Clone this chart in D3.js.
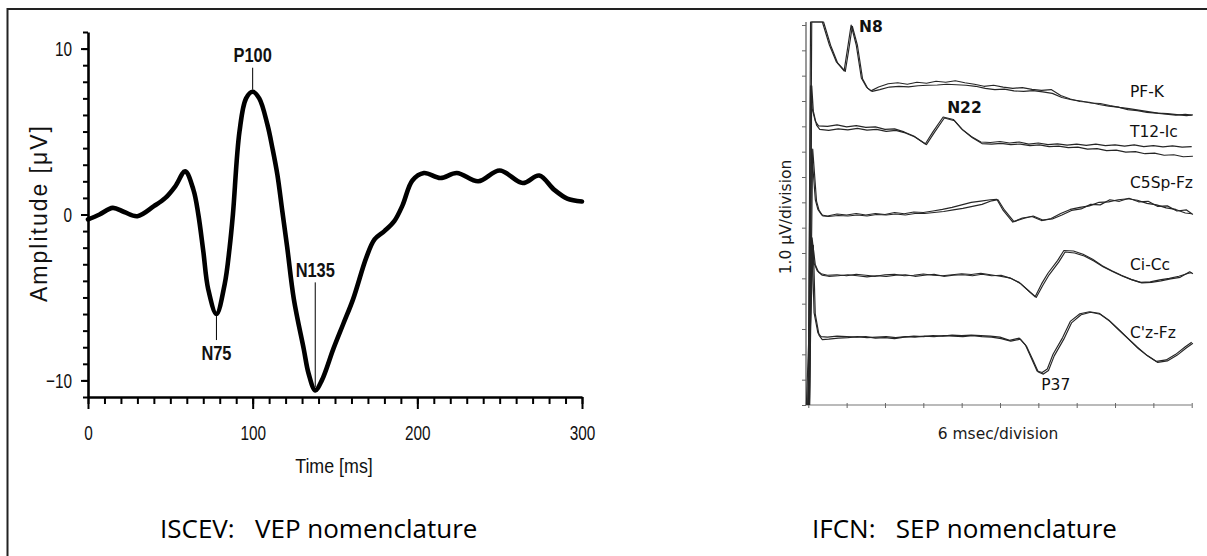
<!DOCTYPE html>
<html>
<head>
<meta charset="utf-8">
<script src="https://cdn.jsdelivr.net/npm/d3@7"></script>
<style>
  html, body { margin: 0; padding: 0; background: #fff; }
  svg { display: block; }
</style>
</head>
<body>
<svg id="chart" width="1207" height="556"></svg>
<script>
// ---------- VEP (ISCEV) waveform: time in ms, amplitude in µV ----------
const vepTime = [0, 7, 15, 22, 30, 40, 47, 53, 59, 64, 67, 70, 73, 78, 83, 86, 88, 92, 96, 100,
                 104, 109, 112, 115, 118, 121, 125, 131, 134, 138, 142, 149, 155, 161, 169, 174,
                 180, 186, 191, 197, 204, 214, 224, 237, 250, 264, 274, 283, 291, 300];
const vepAmp  = [-0.3, 0.0, 0.4, 0.15, -0.1, 0.5, 1.0, 1.7, 2.6, 1.5, 0.0, -2.2, -4.5, -6.0, -4.2, -2.0, 0.0, 5.0, 7.0, 7.4,
                 7.0, 5.4, 4.0, 2.4, 0.2, -2.0, -5.1, -8.1, -9.6, -10.6, -10.0, -8.1, -6.6, -5.1, -2.6, -1.5,
                 -1.0, -0.4, 0.55, 2.05, 2.5, 2.2, 2.5, 2.0, 2.65, 1.9, 2.35, 1.5, 0.96, 0.78];
const vepXTicks = [0, 100, 200, 300];
const vepYTicks = [-10, 0, 10];
const vepPeakNames = ["N75", "P100", "N135"];
const vepPeakTimes = [78, 100, 138];
const vepPeakAmps  = [-6.0, 7.4, -10.6];

// ---------- SEP (IFCN) traces: time in ms, amplitude in µV (display divisions from the bottom) ----------
const sepNames = ["PF-K", "T12-Ic", "C5Sp-Fz", "Ci-Cc", "C'z-Fz"];

const pfkTime = [0, 0.35, 2.2, 3.3, 4.4, 5.6, 6.1, 6.7, 7.5, 8.3, 9.1, 9.8, 11, 12.5, 14, 15.5, 17, 18.5, 20, 21.5,
                 23, 24.5, 26, 27.5, 29, 30.5, 32, 33.5, 35, 36.5, 38, 39.5, 41, 42.5, 44, 45.5, 47, 48.5, 50, 51.5,
                 53, 54.5, 56, 57.5, 59, 60];
const pfkA = [0, 15.12, 15.12, 14.21, 13.54, 13.19, 14.0, 15.0, 14.21, 12.91, 12.55, 12.40, 12.55, 12.68, 12.72, 12.66, 12.74, 12.70, 12.78, 12.74,
              12.80, 12.72, 12.66, 12.58, 12.62, 12.55, 12.50, 12.53, 12.46, 12.42, 12.45, 12.22, 12.08, 11.98, 11.95, 11.86, 11.80, 11.76, 11.66, 11.62,
              11.55, 11.52, 11.48, 11.44, 11.47, 11.44];
const pfkB = [0, 15.12, 15.12, 14.2, 13.5, 13.17, 13.95, 14.95, 14.2, 12.88, 12.5, 12.38, 12.45, 12.55, 12.58, 12.56, 12.6, 12.62, 12.63, 12.66,
              12.64, 12.62, 12.58, 12.5, 12.45, 12.47, 12.40, 12.38, 12.41, 12.36, 12.30, 12.14, 12.05, 12.00, 11.92, 11.90, 11.82, 11.75, 11.70, 11.64,
              11.58, 11.52, 11.50, 11.46, 11.42, 11.45];

const t12Time = [0, 0.35, 0.6, 1.1, 1.6, 3, 4.5, 6, 7.5, 9, 10.5, 12, 13.5, 15, 16.5, 18.3, 19.5, 21.1, 22.7, 24,
                 25.5, 27, 28.5, 30, 31.5, 33, 34.5, 36, 37.5, 39, 40.5, 42, 43.5, 45, 46.5, 48, 49.5, 51, 52.5, 54,
                 55.5, 57, 58.5, 60];
const t12A = [0, 12.6, 11.7, 11.2, 11.02, 11.0, 11.06, 10.98, 11.03, 10.96, 10.98, 10.88, 10.9, 10.78, 10.62, 10.30, 10.78, 11.37, 11.27, 10.9,
              10.6, 10.38, 10.36, 10.4, 10.34, 10.38, 10.3, 10.34, 10.28, 10.31, 10.26, 10.3, 10.25, 10.3, 10.24, 10.27, 10.22, 10.27, 10.2, 10.24,
              10.19, 10.23, 10.18, 10.2];
const t12B = [0, 12.6, 11.6, 11.05, 10.88, 10.84, 10.9, 10.86, 10.92, 10.85, 10.88, 10.8, 10.84, 10.74, 10.58, 10.28, 10.74, 11.33, 11.22, 10.85,
              10.55, 10.32, 10.3, 10.33, 10.28, 10.3, 10.24, 10.27, 10.2, 10.22, 10.16, 10.18, 10.1, 10.12, 10.04, 10.06, 9.98, 10.0, 9.92, 9.94,
              9.86, 9.88, 9.8, 9.82];

const c5Time = [0, 0.5, 1.1, 1.5, 2.1, 3, 4.5, 6, 7.5, 9, 10.5, 12, 13.5, 15, 16.5, 18, 19.5, 21, 22.5, 24,
                25.5, 27, 28.5, 29.5, 30.5, 32, 33.5, 35, 36.5, 38, 39.5, 41, 42.5, 44, 45.5, 47, 48.5, 50, 51.5, 53,
                54.5, 56, 57.5, 59, 60];
const c5A = [0, 10.1, 8.1, 7.72, 7.5, 7.46, 7.54, 7.5, 7.56, 7.5, 7.56, 7.52, 7.6, 7.55, 7.62, 7.6, 7.66, 7.72, 7.8, 7.9,
             8.0, 8.05, 8.1, 8.12, 7.68, 7.22, 7.38, 7.44, 7.28, 7.36, 7.56, 7.72, 7.8, 7.86, 8.0, 8.02, 8.1, 8.14, 8.08, 7.96,
             7.9, 7.78, 7.72, 7.58, 7.55];
const c5B = [0, 10.1, 8.05, 7.68, 7.46, 7.44, 7.48, 7.46, 7.5, 7.46, 7.52, 7.5, 7.54, 7.5, 7.56, 7.56, 7.6, 7.64, 7.7, 7.76,
             7.84, 7.92, 8.06, 8.1, 7.7, 7.24, 7.36, 7.46, 7.3, 7.34, 7.5, 7.68, 7.74, 7.92, 7.9, 8.1, 8.04, 8.16, 8.02, 8.04,
             7.84, 7.86, 7.66, 7.7, 7.52];

const ciTime = [0, 0.4, 0.9, 1.4, 2, 3, 4.5, 6, 7.5, 9, 10.5, 12, 13.5, 15, 16.5, 18, 19.5, 21, 22.5, 24,
                25.5, 27, 28.5, 30, 31.5, 33, 34.5, 35.5, 36.5, 37.5, 39, 40, 41.5, 43, 44.5, 46, 47.5, 49, 50.5, 52,
                53.5, 55, 56.5, 58, 59.5, 60];
const ciA = [0, 6.6, 5.6, 5.3, 5.18, 5.12, 5.14, 5.1, 5.16, 5.12, 5.08, 5.14, 5.16, 5.1, 5.12, 5.17, 5.12, 5.1, 5.14, 5.18,
             5.15, 5.2, 5.14, 5.08, 5.02, 4.84, 4.5, 4.27, 4.78, 5.2, 5.7, 6.1, 6.08, 5.95, 5.75, 5.5, 5.3, 5.12, 4.96, 4.84,
             4.86, 4.94, 5.0, 5.08, 5.2, 5.22];
const ciB = [0, 6.6, 5.55, 5.25, 5.12, 5.08, 5.1, 5.14, 5.1, 5.06, 5.1, 5.08, 5.12, 5.14, 5.08, 5.12, 5.16, 5.08, 5.12, 5.14,
             5.1, 5.16, 5.1, 5.12, 5.0, 4.8, 4.46, 4.25, 4.72, 5.14, 5.64, 6.04, 6.0, 5.88, 5.68, 5.45, 5.26, 5.08, 4.94, 4.82,
             4.84, 4.9, 4.98, 5.04, 5.26, 5.18];

const czTime = [-0.3, 0.6, 0.9, 1.5, 2, 3, 4.5, 6, 7.5, 9, 10.5, 12, 13.5, 15, 16.5, 18, 19.5, 21, 22.5, 24,
                25.5, 27, 28.5, 30, 31.5, 33, 34, 35, 35.8, 36.6, 37.4, 38.3, 39.8, 41, 42.5, 44, 45.5, 47, 48.5, 50,
                51.5, 53, 54.5, 56, 57.5, 59, 60];
const czA = [0, 6.3, 3.65, 2.85, 2.7, 2.68, 2.72, 2.7, 2.68, 2.7, 2.64, 2.66, 2.62, 2.68, 2.72, 2.7, 2.74, 2.72, 2.76, 2.74,
             2.76, 2.74, 2.72, 2.68, 2.55, 2.64, 2.36, 1.8, 1.34, 1.28, 1.42, 2.0, 2.66, 3.3, 3.6, 3.68, 3.62, 3.36, 3.0, 2.64,
             2.28, 1.96, 1.72, 1.78, 2.0, 2.3, 2.48];
const czB = [0, 6.3, 3.6, 2.75, 2.58, 2.6, 2.64, 2.66, 2.7, 2.66, 2.68, 2.7, 2.66, 2.7, 2.68, 2.72, 2.7, 2.74, 2.72, 2.7,
             2.74, 2.7, 2.68, 2.62, 2.52, 2.6, 2.3, 1.76, 1.3, 1.22, 1.36, 1.94, 2.6, 3.24, 3.56, 3.66, 3.58, 3.3, 2.94, 2.58,
             2.22, 1.92, 1.68, 1.74, 1.96, 2.26, 2.44];

// component markers on the SEP traces: name, latency (ms), amplitude (div)
const sepPeakNames = ["N8", "N22", "P37"];
const sepPeakTimes = [6.7, 21.1, 36.6];
const sepPeakAmps  = [15.0, 11.37, 1.28];

const svg = d3.select("#chart");
const ink = "#000";

// shrink a text element's advance width (condensed lettering)
function condense(sel, f) {
  sel.each(function () {
    const w = this.getComputedTextLength();
    d3.select(this).attr("textLength", w * f).attr("lengthAdjust", "spacingAndGlyphs");
  });
}

// ---------- outer frame ----------
svg.append("path")
  .attr("d", "M7.5,556 V9 H1207")
  .attr("fill", "none").attr("stroke", "#222").attr("stroke-width", 2);

// =====================================================================
// Left panel: VEP
// =====================================================================
const vepX = d3.scaleLinear().domain([0, 300]).range([88, 582]);
const vepY = d3.scaleLinear().domain([-11, 11]).range([397, 32]);
const vepFont = "'Liberation Sans', Arial, Helvetica, sans-serif";

const left = svg.append("g");

// x axis: minor ticks every 10 ms, major every 100 ms
left.append("g")
  .attr("transform", `translate(0,${vepY(-11)})`)
  .call(d3.axisBottom(vepX).tickValues(d3.range(0, 301, 10)).tickSize(7).tickSizeOuter(0).tickFormat(""))
  .call(g => g.select(".domain").attr("stroke", ink).attr("stroke-width", 2.6))
  .call(g => g.selectAll(".tick line").attr("stroke", ink).attr("stroke-width", 2));
left.append("g")
  .attr("transform", `translate(0,${vepY(-11)})`)
  .call(d3.axisBottom(vepX).tickValues(vepXTicks).tickSize(12).tickSizeOuter(0).tickPadding(16))
  .call(g => g.select(".domain").remove())
  .call(g => g.selectAll(".tick line").attr("stroke", ink).attr("stroke-width", 2))
  .call(g => g.selectAll(".tick text").attr("fill", "#111").attr("font-family", vepFont).attr("font-size", 21)
    .call(condense, 0.73));

// y axis: minor ticks every 1 µV, major every 10 µV
left.append("g")
  .attr("transform", `translate(${vepX(0)},0)`)
  .call(d3.axisLeft(vepY).tickValues(d3.range(-11, 12, 1)).tickSize(5).tickSizeOuter(0).tickFormat(""))
  .call(g => g.select(".domain").attr("stroke", ink).attr("stroke-width", 2.6))
  .call(g => g.selectAll(".tick line").attr("stroke", ink).attr("stroke-width", 2));
left.append("g")
  .attr("transform", `translate(${vepX(0)},0)`)
  .call(d3.axisLeft(vepY).tickValues(vepYTicks).tickSize(7).tickSizeOuter(0).tickPadding(9))
  .call(g => g.select(".domain").remove())
  .call(g => g.selectAll(".tick line").attr("stroke", ink).attr("stroke-width", 2))
  .call(g => g.selectAll(".tick text").attr("fill", "#111").attr("font-family", vepFont).attr("font-size", 21)
    .call(condense, 0.73));

// axis titles
left.append("text")
  .attr("x", 334).attr("y", 473)
  .attr("text-anchor", "middle")
  .attr("font-family", vepFont).attr("font-size", 21).attr("fill", "#111")
  .text("Time [ms]")
  .call(condense, 0.85);
left.append("text")
  .attr("transform", "translate(47,214) rotate(-90)")
  .attr("text-anchor", "middle")
  .attr("font-family", vepFont).attr("font-size", 23).attr("fill", "#111")
  .attr("textLength", 176).attr("lengthAdjust", "spacing")
  .text("Amplitude [\u03BCV]");

// waveform
left.append("path")
  .datum(vepTime.map((t, i) => [t, vepAmp[i]]))
  .attr("fill", "none")
  .attr("stroke", ink).attr("stroke-width", 4.6)
  .attr("stroke-linejoin", "round").attr("stroke-linecap", "round")
  .attr("d", d3.line().x(d => vepX(d[0])).y(d => vepY(d[1])).curve(d3.curveCatmullRom.alpha(0.5)));

// component labels with leader lines
// offsets in px from the peak: leader start, leader end, text baseline (negative = above)
const vepLeader = [
  { from: 2, to: 26, text: 46 },     // N75 below
  { from: -2, to: -24, text: -30 },  // P100 above
  { from: -3, to: -108, text: -113 } // N135 above
];
vepPeakNames.forEach((name, i) => {
  const cx = vepX(vepPeakTimes[i]);
  const cy = vepY(vepPeakAmps[i]);
  const o = vepLeader[i];
  left.append("line")
    .attr("x1", cx).attr("x2", cx)
    .attr("y1", cy + o.from).attr("y2", cy + o.to)
    .attr("stroke", ink).attr("stroke-width", 1);
  left.append("text")
    .attr("x", cx).attr("y", cy + o.text)
    .attr("text-anchor", "middle")
    .attr("font-family", vepFont).attr("font-weight", "bold").attr("font-size", 20).attr("fill", "#111")
    .text(name)
    .call(condense, 0.82);
});

// =====================================================================
// Right panel: SEP
// =====================================================================
const sepX = d3.scaleLinear().domain([0, 60]).range([808.3, 1191.7]);
const sepY = d3.scaleLinear().domain([0, 15]).range([405, 25]);
const sepFont = "'DejaVu Sans', Verdana, sans-serif";
const traceInk = "#262626";

const right = svg.append("g");

// axes (thin grey lines, small ticks)
right.append("g")
  .attr("transform", `translate(806,0)`)
  .call(d3.axisLeft(sepY).tickValues(d3.range(0, 16, 1)).tickSize(4).tickSizeOuter(0).tickFormat(""))
  .call(g => g.select(".domain").attr("stroke", "#555").attr("stroke-width", 1.2)
    .attr("d", `M0,${sepY(0)}V22`))
  .call(g => g.selectAll(".tick line").attr("stroke", "#666").attr("stroke-width", 1));
right.append("g")
  .attr("transform", `translate(0,${sepY(0)})`)
  .call(d3.axisBottom(sepX).tickValues(d3.range(0, 61, 6)).tickSize(3).tickSizeOuter(0).tickFormat(""))
  .call(g => g.select(".domain").attr("stroke", "#777").attr("stroke-width", 1.2)
    .attr("d", `M806,0H${sepX(60)}`))
  .call(g => g.selectAll(".tick line").attr("stroke", "#666").attr("stroke-width", 1).attr("y1", -2));

right.append("text")
  .attr("transform", `translate(791,217) rotate(-90)`)
  .attr("text-anchor", "middle")
  .attr("font-family", sepFont).attr("font-size", 15.5).attr("fill", "#1a1a1a")
  .text("1.0 \u03BCV/division");
right.append("text")
  .attr("x", 998).attr("y", 439)
  .attr("text-anchor", "middle")
  .attr("font-family", sepFont).attr("font-size", 15.5).attr("fill", "#1a1a1a")
  .text("6 msec/division");

// traces: two superimposed replications each, clipped to the plotting window
svg.append("defs").append("clipPath").attr("id", "sepClip")
  .append("rect").attr("x", 805).attr("y", 20).attr("width", 392).attr("height", 388);

const sepTraces = [
  { t: pfkTime, a: pfkA, b: pfkB },
  { t: t12Time, a: t12A, b: t12B },
  { t: c5Time,  a: c5A,  b: c5B },
  { t: ciTime,  a: ciA,  b: ciB },
  { t: czTime,  a: czA,  b: czB }
];
const sepLine = d3.line().x(d => sepX(d[0])).y(d => sepY(d[1]));
const traceG = right.append("g").attr("clip-path", "url(#sepClip)");
sepTraces.forEach(tr => {
  [tr.a, tr.b].forEach((vals, k) => {
    traceG.append("path")
      .datum(tr.t.map((t, i) => [t, vals[i]]))
      .attr("fill", "none")
      .attr("stroke", traceInk).attr("stroke-width", 1.15)
      .attr("stroke-linejoin", "round")
      .attr("transform", k ? "translate(1.2,0)" : null)
      .attr("d", sepLine);
  });
});

// trace names at the right end of each trace
const sepNameBaseline = [97, 137, 188, 270, 338];
sepNames.forEach((name, i) => {
  right.append("text")
    .attr("x", 1130).attr("y", sepNameBaseline[i])
    .attr("font-family", sepFont).attr("font-size", 15.5).attr("fill", "#111")
    .text(name);
});

// component labels placed next to their peaks
const sepPeakOffset = [[8, 7], [4, -4], [-1, 17]];
sepPeakNames.forEach((name, i) => {
  right.append("text")
    .attr("x", sepX(sepPeakTimes[i]) + sepPeakOffset[i][0])
    .attr("y", sepY(sepPeakAmps[i]) + sepPeakOffset[i][1])
    .attr("font-family", sepFont).attr("font-size", 15.5).attr("fill", "#111")
    .attr("font-weight", i < 2 ? "bold" : "normal")
    .text(name);
});

// =====================================================================
// Captions
// =====================================================================
const capFont = "'Open Sans', 'Noto Sans', sans-serif";
svg.append("text")
  .attr("x", 160).attr("y", 538)
  .attr("font-family", capFont).attr("font-size", 26).attr("fill", "#000")
  .style("white-space", "pre")
  .text("ISCEV:   VEP nomenclature");
svg.append("text")
  .attr("x", 812).attr("y", 538)
  .attr("font-family", capFont).attr("font-size", 26).attr("fill", "#000")
  .style("white-space", "pre")
  .text("IFCN:   SEP nomenclature");
</script>
</body>
</html>
